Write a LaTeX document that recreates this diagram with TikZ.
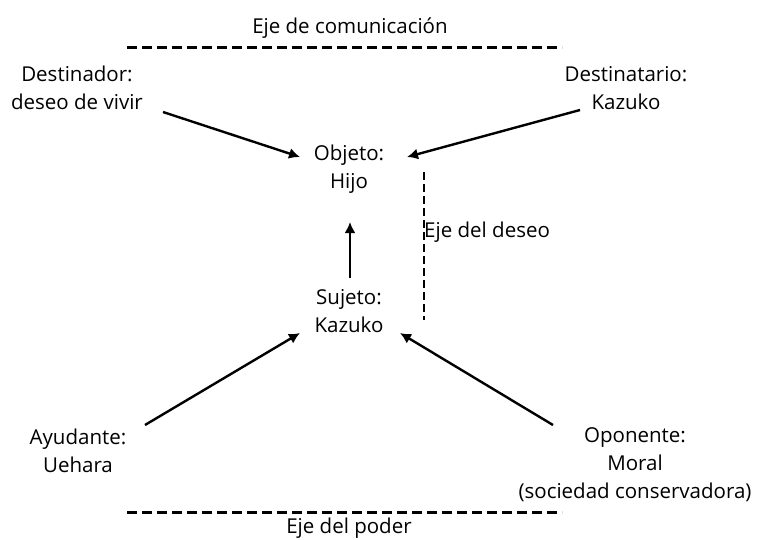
\documentclass[tikz,border=0pt]{standalone}
\usepackage{fontspec}
\setmainfont{Open Sans}
\usetikzlibrary{arrows.meta}
\begin{document}
\begin{tikzpicture}[x=1pt,y=-1pt,
  lbl/.style={align=center,inner sep=0pt,font=\fontsize{20.5}{28}\selectfont},
  arr/.style={line width=2.4pt,-{Latex[length=11pt,width=11pt]}},
  axis/.style={line width=3pt,dash pattern=on 10pt off 5pt},
  vaxis/.style={line width=2.2pt,dash pattern=on 8pt off 4pt}]
\useasboundingbox (0,0) rectangle (760,539);
\node[lbl] (ecom) at (350,28) {Eje de comunicación};
\node[lbl] (epod) at (349,528) {Eje del poder};
\node[lbl] (dest) at (77,88) {Destinador:\\deseo de vivir};
\node[lbl] (dtar) at (626,88) {Destinatario:\\Kazuko};
\node[lbl] (obj) at (349,169) {Objeto:\\Hijo};
\node[lbl] (suj) at (349,311) {Sujeto:\\Kazuko};
\node[lbl] (ayu) at (78,451) {Ayudante:\\Uehara};
\node[lbl] (opo) at (635,465) {Oponente:\\Moral\\(sociedad conservadora)};
\node[lbl,anchor=west] (edes) at (424,232) {Eje del deseo};
\coordinate (t1) at (127,47); \coordinate (t2) at (562,47);
\coordinate (b1) at (127,512); \coordinate (b2) at (562,512);
\coordinate (v1) at (424,172); \coordinate (v2) at (424,320);
\draw[axis] (t1) -- (t2);
\draw[axis] (b1) -- (b2);
\draw[vaxis] (v1) -- (v2);
\draw[arr] ([shift={(86,24)}]dest.center) -- ([shift={(-49,-12)}]obj.center);
\draw[arr] ([shift={(-46,22)}]dtar.center) -- ([shift={(58,-12)}]obj.center);
\draw[arr] ([shift={(1,-33)}]suj.center) -- ([shift={(1,53)}]obj.center);
\draw[arr] ([shift={(67,-26)}]ayu.center) -- ([shift={(-49,22)}]suj.center);
\draw[arr] ([shift={(-82,-40)}]opo.center) -- ([shift={(51,22)}]suj.center);
\end{tikzpicture}
\end{document}
